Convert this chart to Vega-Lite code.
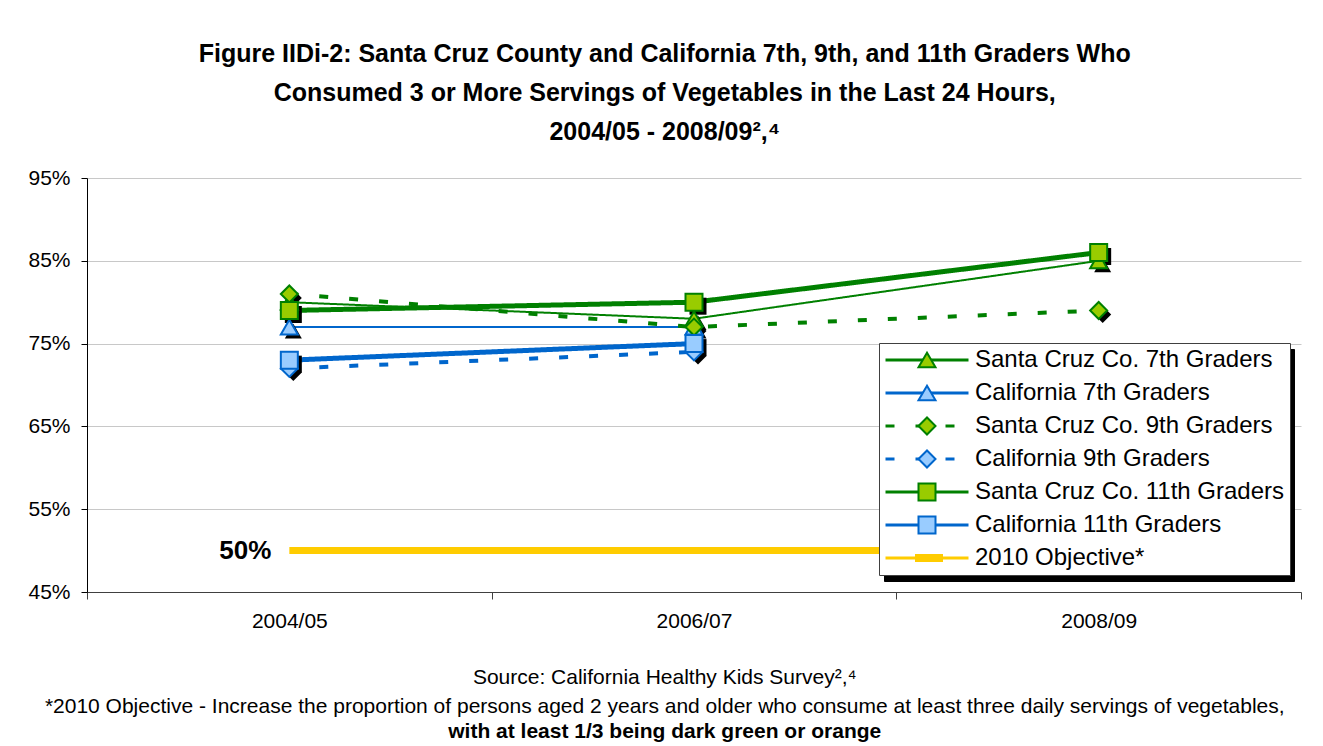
{
  "$schema": "https://vega.github.io/schema/vega-lite/v6.json",
  "background": "white",
  "padding": {"left": 27, "top": 42, "right": 10, "bottom": 0},
  "title": {
    "text": [
      "Figure IIDi-2: Santa Cruz County and California 7th, 9th, and 11th Graders Who",
      "Consumed 3 or More Servings of Vegetables in the Last 24 Hours,",
      "2004/05 - 2008/09²,⁴"
    ],
    "font": "Liberation Sans",
    "fontSize": 25,
    "fontWeight": "bold",
    "lineHeight": 39,
    "color": "black",
    "anchor": "middle",
    "offset": 22
  },
  "datasets": {
    "rates": [
      {"series": "Santa Cruz Co. 7th Graders", "year": "2004/05", "value": 80},
      {"series": "Santa Cruz Co. 7th Graders", "year": "2006/07", "value": 78},
      {"series": "Santa Cruz Co. 7th Graders", "year": "2008/09", "value": 85},
      {"series": "California 7th Graders", "year": "2004/05", "value": 77},
      {"series": "California 7th Graders", "year": "2006/07", "value": 77},
      {"series": "Santa Cruz Co. 9th Graders", "year": "2004/05", "value": 81},
      {"series": "Santa Cruz Co. 9th Graders", "year": "2006/07", "value": 77},
      {"series": "Santa Cruz Co. 9th Graders", "year": "2008/09", "value": 79},
      {"series": "California 9th Graders", "year": "2004/05", "value": 72},
      {"series": "California 9th Graders", "year": "2006/07", "value": 74},
      {"series": "Santa Cruz Co. 11th Graders", "year": "2004/05", "value": 79},
      {"series": "Santa Cruz Co. 11th Graders", "year": "2006/07", "value": 80},
      {"series": "Santa Cruz Co. 11th Graders", "year": "2008/09", "value": 86},
      {"series": "California 11th Graders", "year": "2004/05", "value": 73},
      {"series": "California 11th Graders", "year": "2006/07", "value": 75},
      {"series": "2010 Objective*", "year": "2004/05", "value": 50},
      {"series": "2010 Objective*", "year": "2006/07", "value": 50},
      {"series": "2010 Objective*", "year": "2008/09", "value": 50}
    ]
  },
  "vconcat": [
    {
      "width": 1214,
      "height": 414,
      "data": {"name": "rates"},
      "title": {
        "text": [
          "Source: California Healthy Kids Survey²,⁴",
          "*2010 Objective - Increase the proportion of persons aged 2 years and older who consume at least three daily servings of vegetables,"
        ],
        "subtitle": "with at least 1/3 being dark green or orange",
        "orient": "bottom",
        "anchor": "middle",
        "frame": "bounds",
        "font": "Liberation Sans",
        "fontSize": 21,
        "fontWeight": "normal",
        "lineHeight": 29,
        "color": "black",
        "subtitleFont": "Liberation Sans",
        "subtitleFontSize": 21,
        "subtitleFontWeight": "bold",
        "subtitleColor": "black",
        "subtitlePadding": 4,
        "offset": 36
      },
      "encoding": {
        "x": {
          "field": "year",
          "type": "nominal",
          "scale": {"type": "band", "paddingInner": 0, "paddingOuter": 0, "domain": ["2004/05", "2006/07", "2008/09"]},
          "axis": {
            "title": null,
            "labelAngle": 0,
            "labelFont": "Liberation Sans",
            "labelFontSize": 21,
            "labelColor": "black",
            "labelPadding": 11,
            "tickBand": "extent",
            "tickSize": 7,
            "tickColor": "#404040",
            "domainColor": "#404040",
            "grid": false
          }
        },
        "y": {
          "field": "value",
          "type": "quantitative",
          "scale": {"domain": [45, 95], "nice": false, "zero": false},
          "axis": {
            "title": null,
            "values": [45, 55, 65, 75, 85, 95],
            "labelExpr": "datum.value + '%'",
            "labelFont": "Liberation Sans",
            "labelFontSize": 21,
            "labelColor": "black",
            "labelPadding": 11,
            "tickSize": 6,
            "tickColor": "black",
            "domainColor": "black",
            "grid": true,
            "gridColor": "#c8c8c8"
          }
        }
      },
      "layer": [
        {
          "mark": {"type": "line", "strokeCap": "butt"},
          "encoding": {
            "color": {
              "field": "series",
              "type": "nominal",
              "scale": {
                "domain": ["Santa Cruz Co. 7th Graders", "California 7th Graders", "Santa Cruz Co. 9th Graders", "California 9th Graders", "Santa Cruz Co. 11th Graders", "California 11th Graders", "2010 Objective*"],
                "range": ["#008000", "#0066CC", "#008000", "#0066CC", "#008000", "#0066CC", "#FFCC00"]
              },
              "legend": {
                "orient": "none",
                "legendX": 792,
                "legendY": 165,
                "title": null,
                "direction": "vertical",
                "symbolType": "stroke",
                "symbolSize": 6889,
                "symbolStrokeWidth": 3,
                "clipHeight": 24,
                "rowPadding": 9,
                "padding": 5,
                "labelOffset": 5,
                "labelFont": "Liberation Sans",
                "labelFontSize": 24,
                "labelColor": "black",
                "labelLimit": 400,
                "fillColor": "white",
                "strokeColor": "#404040",
                "zindex": 2
              }
            },
            "strokeDash": {
              "field": "series",
              "type": "nominal",
              "scale": {
                "domain": ["Santa Cruz Co. 7th Graders", "California 7th Graders", "Santa Cruz Co. 9th Graders", "California 9th Graders", "Santa Cruz Co. 11th Graders", "California 11th Graders", "2010 Objective*"],
                "range": [[1, 0], [1, 0], [9, 21], [9, 21], [1, 0], [1, 0], [1, 0]]
              }
            },
            "strokeWidth": {
              "condition": [
                {"test": "datum.series === 'Santa Cruz Co. 11th Graders' || datum.series === 'California 11th Graders'", "value": 5},
                {"test": "datum.series === 'Santa Cruz Co. 9th Graders' || datum.series === 'California 9th Graders'", "value": 4},
                {"test": "datum.series === '2010 Objective*'", "value": 7}
              ],
              "value": 2
            }
          }
        },
        {
          "transform": [{"filter": "datum.series === 'Santa Cruz Co. 7th Graders' || datum.series === 'California 7th Graders'"}],
          "mark": {"type": "point", "shape": "triangle-up", "filled": true, "color": "black", "size": 289, "xOffset": 4, "yOffset": 4},
          "encoding": {
            "opacity": {
              "field": "series",
              "type": "nominal",
              "scale": {
                "type": "point",
                "domain": ["Santa Cruz Co. 7th Graders", "California 7th Graders", "Santa Cruz Co. 9th Graders", "California 9th Graders", "Santa Cruz Co. 11th Graders", "California 11th Graders", "2010 Objective**"],
                "range": [1, 1]
              },
              "legend": {
                "orient": "none",
                "legendX": 797,
                "legendY": 171,
                "title": null,
                "direction": "vertical",
                "symbolType": "stroke",
                "symbolSize": 153664,
                "symbolStrokeWidth": 3,
                "symbolOpacity": 0,
                "clipHeight": 24,
                "rowPadding": 9,
                "padding": 5,
                "labelOffset": 5,
                "labelFontSize": 24,
                "labelExpr": "''",
                "fillColor": "black",
                "strokeColor": "black",
                "zindex": 1
              }
            }
          }
        },
        {
          "transform": [{"filter": "datum.series === 'Santa Cruz Co. 9th Graders' || datum.series === 'California 9th Graders'"}],
          "mark": {"type": "point", "shape": "diamond", "filled": true, "color": "black", "opacity": 1, "size": 289, "xOffset": 4, "yOffset": 4},
          "encoding": {}
        },
        {
          "transform": [{"filter": "datum.series === 'Santa Cruz Co. 11th Graders' || datum.series === 'California 11th Graders'"}],
          "mark": {"type": "point", "shape": "square", "filled": true, "color": "black", "opacity": 1, "size": 289, "xOffset": 4, "yOffset": 4},
          "encoding": {}
        },
        {
          "transform": [{"filter": "datum.series !== '2010 Objective*'"}],
          "mark": {"type": "point", "opacity": 1, "size": 289, "strokeWidth": 2},
          "encoding": {
            "shape": {
              "field": "series",
              "type": "nominal",
              "scale": {
                "domain": ["Santa Cruz Co. 7th Graders", "California 7th Graders", "Santa Cruz Co. 9th Graders", "California 9th Graders", "Santa Cruz Co. 11th Graders", "California 11th Graders", "2010 Objective"],
                "range": ["triangle-up", "triangle-up", "diamond", "diamond", "square", "square", "M-5,-0.47H5A0.47,0.47 0 0 1 5,0.47H-5A0.47,0.47 0 0 1 -5,-0.47Z"]
              },
              "legend": {
                "orient": "none",
                "legendX": 823,
                "legendY": 165,
                "title": null,
                "direction": "vertical",
                "symbolSize": 289,
                "symbolStrokeWidth": 2,
                "clipHeight": 24,
                "rowPadding": 9,
                "padding": 5,
                "labelFontSize": 24,
                "labelExpr": "''",
                "zindex": 3
              }
            },
            "fill": {
              "field": "series",
              "type": "nominal",
              "scale": {
                "domain": ["Santa Cruz Co. 7th Graders", "California 7th Graders", "Santa Cruz Co. 9th Graders", "California 9th Graders", "Santa Cruz Co. 11th Graders", "California 11th Graders", "2010 Objective"],
                "range": ["#99CC00", "#99CCFF", "#99CC00", "#99CCFF", "#99CC00", "#99CCFF", "#FFCC00"]
              }
            },
            "stroke": {
              "field": "series",
              "type": "nominal",
              "scale": {
                "domain": ["Santa Cruz Co. 7th Graders", "California 7th Graders", "Santa Cruz Co. 9th Graders", "California 9th Graders", "Santa Cruz Co. 11th Graders", "California 11th Graders", "2010 Objective"],
                "range": ["#008000", "#0066CC", "#008000", "#0066CC", "#008000", "#0066CC", "transparent"]
              }
            }
          }
        },
        {
          "transform": [
            {"filter": "datum.series === '2010 Objective*' && datum.year === '2004/05'"},
            {"calculate": "datum.value + '%'", "as": "label"}
          ],
          "mark": {"type": "text", "align": "right", "baseline": "middle", "dx": -18, "font": "Liberation Sans", "fontSize": 26, "fontWeight": "bold", "color": "black"},
          "encoding": {"text": {"field": "label", "type": "nominal"}}
        }
      ]
    }
  ],
  "config": {
    "font": "Liberation Sans",
    "view": {"stroke": null}
  }
}
